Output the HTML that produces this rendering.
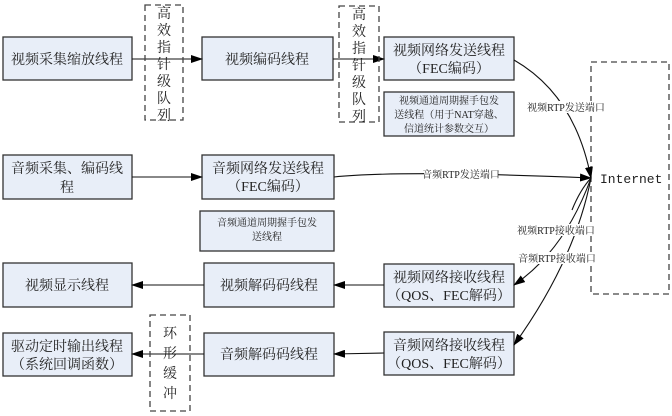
<!DOCTYPE html>
<html><head><meta charset="utf-8"><style>
html,body{margin:0;padding:0;background:#fff}
svg{display:block}
text{font-family:"Liberation Serif","Noto Serif CJK SC","Noto Sans CJK SC",serif;fill:#222}
.b{fill:#e8eef8;stroke:#333;stroke-width:1.3}
.d{fill:none;stroke:#444;stroke-width:1.3;stroke-dasharray:6,4}
.t{font-size:14px;text-anchor:middle}
.s{font-size:10px;text-anchor:middle}
.l{stroke:#111;stroke-width:1.1;fill:none}
</style></head><body>
<svg width="672" height="416" viewBox="0 0 672 416">
<defs><marker id="a" markerWidth="12" markerHeight="8" refX="11" refY="4" orient="auto" markerUnits="userSpaceOnUse"><path d="M0,0 L12,4 L0,8z" fill="#000"/></marker></defs>
<rect class="b" x="3" y="37" width="129" height="43"/><text class="t" x="67" y="64">视频采集缩放线程</text>
<rect class="b" x="202" y="37" width="131" height="43"/><text class="t" x="267" y="64">视频编码线程</text>
<rect class="b" x="384" y="37" width="130" height="43"/><text class="t" x="449" y="55">视频网络发送线程</text><text class="t" x="449" y="73">（FEC编码）</text>
<rect class="b" x="384" y="92" width="130" height="44"/><text class="s" x="449" y="104">视频通道周期握手包发</text><text class="s" x="449" y="118">送线程（用于NAT穿越、</text><text class="s" x="449" y="132">信道统计参数交互）</text>
<rect class="b" x="3" y="155" width="129" height="44"/><text class="t" x="67" y="173">音频采集、编码线</text><text class="t" x="67" y="192">程</text>
<rect class="b" x="202" y="155" width="132" height="44"/><text class="t" x="268" y="173">音频网络发送线程</text><text class="t" x="268" y="191">（FEC编码）</text>
<rect class="b" x="200" y="211" width="134" height="40"/><text class="s" x="267" y="226">音频通道周期握手包发</text><text class="s" x="267" y="240">送线程</text>
<rect class="b" x="3" y="263" width="129" height="44"/><text class="t" x="67" y="290">视频显示线程</text>
<rect class="b" x="204" y="263" width="130" height="44"/><text class="t" x="269" y="290">视频解码码线程</text>
<rect class="b" x="384" y="264" width="130" height="43"/><text class="t" x="449" y="282">视频网络接收线程</text><text class="t" x="449" y="300">（QOS、FEC解码）</text>
<rect class="b" x="3" y="333" width="129" height="43"/><text class="t" x="67" y="351">驱动定时输出线程</text><text class="t" x="67" y="369">（系统回调函数）</text>
<rect class="b" x="204" y="333" width="130" height="43"/><text class="t" x="269" y="359">音频解码码线程</text>
<rect class="b" x="384" y="332" width="130" height="43"/><text class="t" x="449" y="350">音频网络接收线程</text><text class="t" x="449" y="368">（QOS、FEC解码）</text>
<rect class="d" x="591" y="62" width="78" height="232"/><text x="600" y="183" style="font-size:13px;font-family:'Liberation Mono',monospace">Internet</text>
<line class="l" x1="132" y1="59" x2="202" y2="59" marker-end="url(#a)"/>
<line class="l" x1="333" y1="59" x2="384" y2="59" marker-end="url(#a)"/>
<line class="l" x1="132" y1="177" x2="202" y2="177" marker-end="url(#a)"/>
<line class="l" x1="204" y1="285" x2="132" y2="285" marker-end="url(#a)"/>
<line class="l" x1="384" y1="285" x2="334" y2="285" marker-end="url(#a)"/>
<line class="l" x1="204" y1="354" x2="132" y2="354" marker-end="url(#a)"/>
<line class="l" x1="384" y1="353" x2="334" y2="354" marker-end="url(#a)"/>
<rect class="d" x="145" y="5" width="38" height="115"/>
<g class="t"><text class="t" x="164" y="18">高</text><text class="t" x="164" y="35">效</text><text class="t" x="164" y="52">指</text><text class="t" x="164" y="69">针</text><text class="t" x="164" y="86">级</text><text class="t" x="164" y="103">队</text><text class="t" x="164" y="120">列</text></g>
<rect class="d" x="339" y="6" width="40" height="116"/>
<text class="t" x="359" y="19">高</text><text class="t" x="359" y="36">效</text><text class="t" x="359" y="53">指</text><text class="t" x="359" y="70">针</text><text class="t" x="359" y="87">级</text><text class="t" x="359" y="104">队</text><text class="t" x="359" y="121">列</text>
<rect class="d" x="150" y="315" width="40" height="96"/>
<text class="t" x="170" y="338">环</text><text class="t" x="170" y="358">形</text><text class="t" x="170" y="378">缓</text><text class="t" x="170" y="398">冲</text>
<path class="l" d="M514,60 Q575,95 591,178" marker-end="url(#a)"/>
<path class="l" d="M334,177 Q400,170 591,178" marker-end="url(#a)"/>
<path class="l" d="M591,178 Q565,250 514,285" marker-end="url(#a)"/>
<path class="l" d="M591,178 Q575,260 514,345" marker-end="url(#a)"/>
<path class="l" d="M591,178 Q580,190 572,210"/>
<rect x="527" y="101" width="80" height="12" fill="#fff"/><text class="s" x="566" y="111">视频RTP发送端口</text>
<rect x="424" y="169" width="74" height="12" fill="#fff"/><text class="s" x="461" y="178">音频RTP发送端口</text>
<rect x="517" y="224" width="78" height="12" fill="#fff"/><text class="s" x="556" y="234">视频RTP接收端口</text>
<rect x="518" y="252" width="77" height="12" fill="#fff"/><text class="s" x="557" y="262">音频RTP接收端口</text>
</svg>
</body></html>
